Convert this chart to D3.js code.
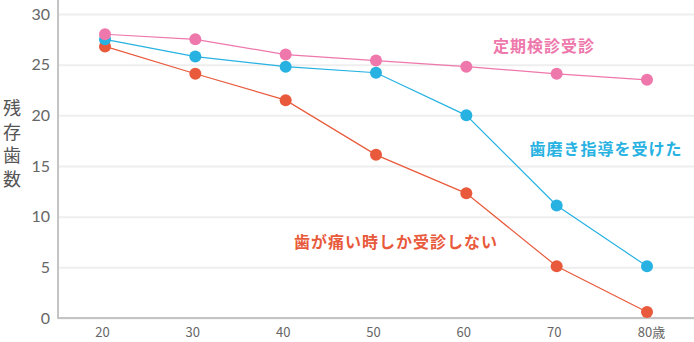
<!DOCTYPE html>
<html><head><meta charset="utf-8">
<script src="https://cdn.jsdelivr.net/npm/d3@7"></script>
<style>body{margin:0;background:#fff;}svg{display:block;font-family:"Noto Sans CJK JP","Noto Sans",sans-serif;}</style>
</head><body><svg id="c" width="694" height="342"></svg>
<script>
const ages = [20, 30, 40, 50, 60, 70, 80];
const ageLabels = ["20", "30", "40", "50", "60", "70", "80歳"];
const yTicks = [0, 5, 10, 15, 20, 25, 30];
const checkup = [28.0, 27.5, 26.0, 25.4, 24.8, 24.1, 23.5];
const brushing = [27.5, 25.8, 24.8, 24.2, 20.0, 11.1, 5.1];
const painOnly = [26.8, 24.1, 21.5, 16.1, 12.3, 5.1, 0.6];
const seriesNames = ["定期検診受診", "歯磨き指導を受けた", "歯が痛い時しか受診しない"];
const yTitle = "残存歯数";

const svg = d3.select("#c");
const x = d3.scaleLinear().domain([20, 80]).range([105, 647]);
const y = d3.scaleLinear().domain([0, 30]).range([318, 14]);

// grid
const g = svg.append("g").attr("transform", "translate(58,0)")
  .call(d3.axisLeft(y).tickValues(yTicks).tickSize(-636).tickPadding(8).tickFormat(d3.format("d")));
g.select(".domain").remove();
g.selectAll(".tick line").attr("stroke", "#eeeeee").attr("stroke-width", 2);
g.selectAll(".tick text").attr("fill", "#666").attr("font-size", 16).attr("font-family", "Lato, 'Noto Sans', sans-serif").attr("x", -8);

// axes lines
svg.append("line").attr("x1", 58).attr("x2", 58).attr("y1", 0).attr("y2", 319).attr("stroke", "#c4c4c4").attr("stroke-width", 2);
svg.append("line").attr("x1", 57).attr("x2", 694).attr("y1", 318).attr("y2", 318).attr("stroke", "#c4c4c4").attr("stroke-width", 2);

// x labels
const xa = svg.append("g").attr("transform", "translate(0,318)")
  .call(d3.axisBottom(x).tickValues(ages).tickSize(0).tickPadding(10).tickFormat((d, i) => ageLabels[i]));
xa.select(".domain").remove();
xa.selectAll(".tick text").attr("fill", "#666").attr("font-size", 13).attr("font-family", "'Noto Sans CJK JP', sans-serif")
  .attr("transform", (d, i) => i === 6 ? "translate(4,0)" : "translate(-3,0)");

// y title
const yt = svg.append("text").attr("fill", "#555").attr("font-size", 18).attr("text-anchor", "middle");
yTitle.split("").forEach((ch, i) => yt.append("tspan").attr("x", 12).attr("y", 115 + i * 23.5).text(ch));

const series = [
  {vals: painOnly, color: "#e85a3b"},
  {vals: brushing, color: "#27b2e2"},
  {vals: checkup, color: "#ee77ab"}
];
const line = d3.line().x((d, i) => x(ages[i])).y(d => y(d));
series.forEach(s => {
  svg.append("path").datum(s.vals).attr("d", line).attr("fill", "none").attr("stroke", s.color).attr("stroke-width", 1.2);
});
series.forEach(s => {
  svg.append("g").selectAll("circle").data(s.vals).join("circle")
    .attr("cx", (d, i) => x(ages[i])).attr("cy", d => y(d)).attr("r", 6).attr("fill", s.color);
});

// labels
const labs = [
  {t: seriesNames[0], x: 544, y: 52, c: "#ee77ab"},
  {t: seriesNames[1], x: 606, y: 155, c: "#27b2e2"},
  {t: seriesNames[2], x: 396, y: 248, c: "#e85a3b"}
];
labs.forEach(l => svg.append("text").attr("x", l.x).attr("y", l.y).attr("text-anchor", "middle")
  .attr("fill", l.c).attr("font-size", 16).attr("font-weight", "bold").attr("letter-spacing", 1).text(l.t));
</script></body></html>
